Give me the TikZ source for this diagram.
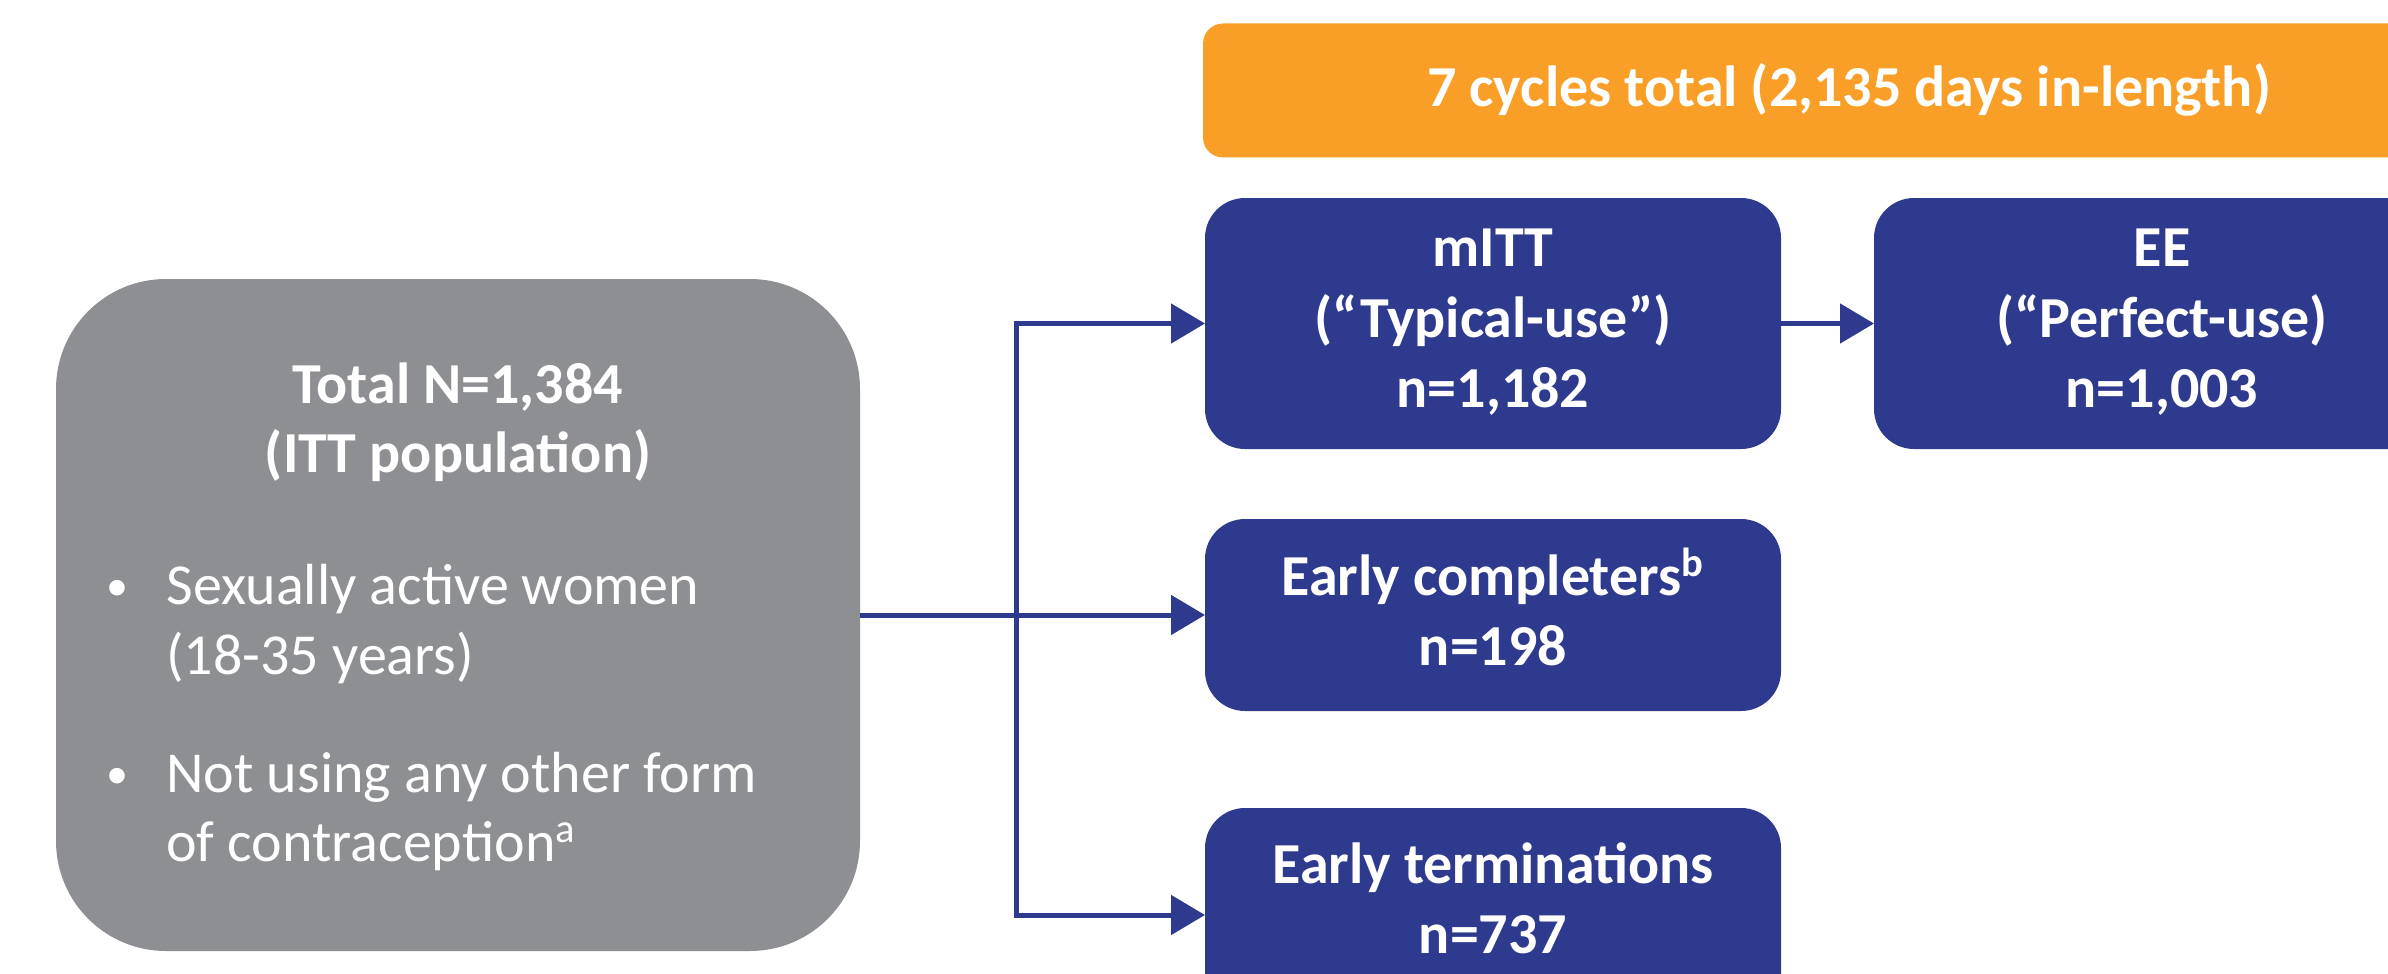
\documentclass[tikz,border=0pt]{standalone}
\usepackage{fontspec}
\setmainfont{Carlito}
\usetikzlibrary{arrows.meta}
\definecolor{greybox}{RGB}{142,143,147}
\definecolor{navy}{RGB}{46,58,142}
\definecolor{amber}{RGB}{249,159,40}
\begin{document}
\begin{tikzpicture}[x=0.5pt,y=-0.5pt,
  box/.style={draw=none, inner sep=0pt, outer sep=0pt},
  greyb/.style={box, fill=greybox, rounded corners=55pt, minimum width=402pt, minimum height=336pt},
  amberb/.style={box, fill=amber, rounded corners=10pt, minimum width=643pt, minimum height=67pt},
  blueb/.style={box, fill=navy, rounded corners=20pt, minimum width=288pt, minimum height=125.5pt},
  txt/.style={text=white, font=\fontsize{29}{35}\selectfont, inner sep=0pt, anchor=base},
  btxt/.style={txt, font=\fontsize{29}{35}\selectfont\bfseries},
  bul/.style={txt, font=\fontsize{22}{26}\selectfont},
  conn/.style={draw=navy, line width=2.5pt},
  tipend/.style={-{Triangle[length=17pt,width=19.5pt]}},
  tipboth/.style={{Triangle[length=17pt,width=19.5pt]}-{Triangle[length=17pt,width=19.5pt]}}
]
\useasboundingbox (0,0) rectangle (2388,974);
\clip (0,0) rectangle (2388,974);

% boxes
\node[greyb] (grey) at (458,615) {};
\node[amberb] (cyc) at (1846,90.5) {};
\node[blueb] (mitt) at (1493,323.5) {};
\node[blueb] (ee) at (2162,323.5) {};
\node[blueb, minimum height=96pt] (ec) at (1493,615) {};
\node[blueb, minimum height=107pt] (et) at (1493,915) {};

% grey box text
\node[btxt] (tot) at (458,403) {Total N=1,384};
\node[btxt] (itt) at (458,472) {(ITT population)};
\node[bul] (bula) at (117,600) {•};
\node[txt, anchor=base west] (sa1) at (166,604) {Sexually active women};
\node[txt, anchor=base west] (sa2) at (166,674) {(18-35 years)};
\node[bul] (bulb) at (117,788) {•};
\node[txt, anchor=base west] (nu1) at (166,792) {Not using any other form};
\node[txt, anchor=base west] (nu2) at (166,861) {of contraception\textsuperscript{a}};

% orange text
\node[btxt] (cyct) at (1849,107) {7 cycles total (2,135 days in-length)};

% blue box texts
\node[btxt] (m1) at (1493,266) {mITT};
\node[btxt] (m2) at (1493,337) {(“Typical-use”)};
\node[btxt] (m3) at (1493,407) {n=1,182};
\node[btxt] (e1) at (2162,266) {EE};
\node[btxt] (e2) at (2162,337) {(“Perfect-use)};
\node[btxt] (e3) at (2162,407) {n=1,003};
\node[btxt] (c1) at (1493,595) {Early completers\textsuperscript{b}};
\node[btxt] (c2) at (1493,665) {n=198};
\node[btxt] (t1) at (1493,883) {Early terminations};
\node[btxt] (t2) at (1493,953) {n=737};

% connectors
\coordinate (jx) at (1016,615);
\draw[conn, tipend] (grey.east) -- (ec.west);
\draw[conn, tipboth] (mitt.west) -| (jx) |- (et.west);
\draw[conn, tipend] (mitt.east) -- (ee.west);
\end{tikzpicture}
\end{document}
